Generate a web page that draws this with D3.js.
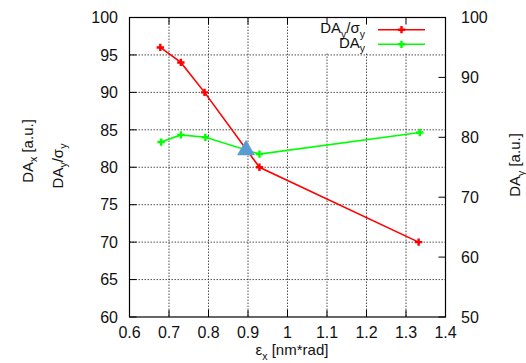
<!DOCTYPE html>
<html><head><meta charset="utf-8">
<script src="https://cdn.jsdelivr.net/npm/d3@7"></script>
<style>
body{margin:0;background:#fff;}
svg{display:block;font-family:"Liberation Sans",Arial,sans-serif;}
</style></head>
<body><svg id="c" width="526" height="363"></svg>
<script>
// ---- data ----
const xTicks = [0.6,0.7,0.8,0.9,1,1.1,1.2,1.3,1.4];
const xTickLabels = ["0.6","0.7","0.8","0.9","1","1.1","1.2","1.3","1.4"];
const yLeftTicks = [60,65,70,75,80,85,90,95,100];
const yRightTicks = [50,60,70,80,90,100];
// DA_y/sigma_y (left axis)
const ratioX = [0.678,0.730,0.790,0.929,1.332];
const ratioY = [96,94,90,80,70];
// DA_y (right axis)
const daX = [0.680,0.730,0.792,0.929,1.335];
const daY = [79.2,80.4,80.0,77.2,80.8];
// highlighted point (left axis)
const markX = [0.895];
const markY = [82.3];

const svg = d3.select("#c");
const L=129.5,R=445.5,T=17.5,B=317;
const x = d3.scaleLinear().domain([0.6,1.4]).range([L,R]);
const yL = d3.scaleLinear().domain([60,100]).range([B,T]);
const yR = d3.scaleLinear().domain([50,100]).range([B,T]);

// grid
const grid = svg.append("g").attr("stroke","#222").attr("stroke-width",0.8).attr("stroke-dasharray","1.5,1.5");
xTicks.slice(1,-1).forEach(v=>grid.append("line").attr("x1",x(v)).attr("x2",x(v)).attr("y1",T).attr("y2",B));
yLeftTicks.slice(1,-1).forEach(v=>grid.append("line").attr("x1",L).attr("x2",R).attr("y1",yL(v)).attr("y2",yL(v)));

// legend background
svg.append("rect").attr("x",300).attr("y",T+0.5).attr("width",R-300-0.5).attr("height",35).attr("fill","#fff");

// ticks (inward)
const tk = svg.append("g").attr("stroke","#000").attr("stroke-width",1);
xTicks.forEach(v=>{
  tk.append("line").attr("x1",x(v)).attr("x2",x(v)).attr("y1",B).attr("y2",B-7);
  tk.append("line").attr("x1",x(v)).attr("x2",x(v)).attr("y1",T).attr("y2",T+7);
});
yLeftTicks.forEach(v=>tk.append("line").attr("x1",L).attr("x2",L+7).attr("y1",yL(v)).attr("y2",yL(v)));
yRightTicks.forEach(v=>tk.append("line").attr("x1",R).attr("x2",R-7).attr("y1",yR(v)).attr("y2",yR(v)));

// frame
svg.append("rect").attr("x",L).attr("y",T).attr("width",R-L).attr("height",B-T).attr("fill","none").attr("stroke","#000").attr("stroke-width",1.2);

// tick labels
const lab = svg.append("g").attr("font-size",16).attr("fill","#111");
yLeftTicks.forEach(v=>lab.append("text").attr("x",118).attr("y",yL(v)).attr("dy","0.36em").attr("text-anchor","end").text(v));
yRightTicks.forEach(v=>lab.append("text").attr("x",461).attr("y",yR(v)).attr("dy","0.36em").attr("text-anchor","start").text(v));
xTicks.forEach((v,i)=>lab.append("text").attr("x",x(v)).attr("y",338).attr("text-anchor","middle").text(xTickLabels[i]));

// text with subscripts
function sub(t, parts){
  let down = false;
  parts.forEach(p=>{
    if(p.s){ t.append("tspan").attr("font-size","70%").attr("dy","0.43em").text(p.s); down = true; }
    else { const s = t.append("tspan").text(p.t); if(down){ s.attr("dy","-0.3em"); down=false; } }
  });
}
const tt = svg.append("g").attr("font-size",15).attr("fill","#111");
let t1 = tt.append("text").attr("transform","translate(32.5,151) rotate(-90)").attr("text-anchor","middle");
sub(t1,[{t:"DA"},{s:"x"},{t:" [a.u.]"}]);
let t2 = tt.append("text").attr("transform","translate(62.5,166) rotate(-90)").attr("text-anchor","middle");
sub(t2,[{t:"DA"},{s:"y"},{t:"/σ"},{s:"y"}]);
let t3 = tt.append("text").attr("transform","translate(520,165) rotate(-90)").attr("text-anchor","middle");
sub(t3,[{t:"DA"},{s:"y"},{t:" [a.u.]"}]);
let t4 = tt.append("text").attr("x",292).attr("y",355).attr("text-anchor","middle");
sub(t4,[{t:"ε"},{s:"x"},{t:" [nm*rad]"}]);

// series
const cross = d3.symbol().type(d3.symbolCross).size(30);
function series(xs, ys, ysc, color){
  const pts = xs.map((v,i)=>[x(v), ysc(ys[i])]);
  svg.append("path").attr("d",d3.line()(pts)).attr("fill","none").attr("stroke",color).attr("stroke-width",1.6);
  svg.append("g").selectAll("path").data(pts).join("path")
    .attr("transform",d=>`translate(${d[0]},${d[1]})`).attr("d",cross).attr("fill",color);
}
series(ratioX, ratioY, yL, "#ff0000");
series(daX, daY, yR, "#00ff00");

// highlighted triangle
svg.append("g").selectAll("path").data(markX).join("path")
  .attr("transform",(d,i)=>`translate(${x(d)},${yL(markY[i])})`)
  .attr("d",d3.symbol().type(d3.symbolTriangle).size(140)).attr("fill","#5b9bd5");

// legend
const lg = svg.append("g").attr("font-size",15).attr("fill","#111");
const rows = [{c:"#ff0000",parts:[{t:"DA"},{s:"y"},{t:"/σ"},{s:"y"}],y:29.7},
              {c:"#00ff00",parts:[{t:"DA"},{s:"y"}],y:44.3}];
rows.forEach(r=>{
  const t = lg.append("text").attr("x",365).attr("y",r.y+3.5).attr("text-anchor","end");
  sub(t,r.parts);
  svg.append("line").attr("x1",378).attr("x2",425).attr("y1",r.y).attr("y2",r.y).attr("stroke",r.c).attr("stroke-width",1.6);
  svg.append("path").attr("transform",`translate(401.5,${r.y})`).attr("d",cross).attr("fill",r.c);
});
</script></body></html>
